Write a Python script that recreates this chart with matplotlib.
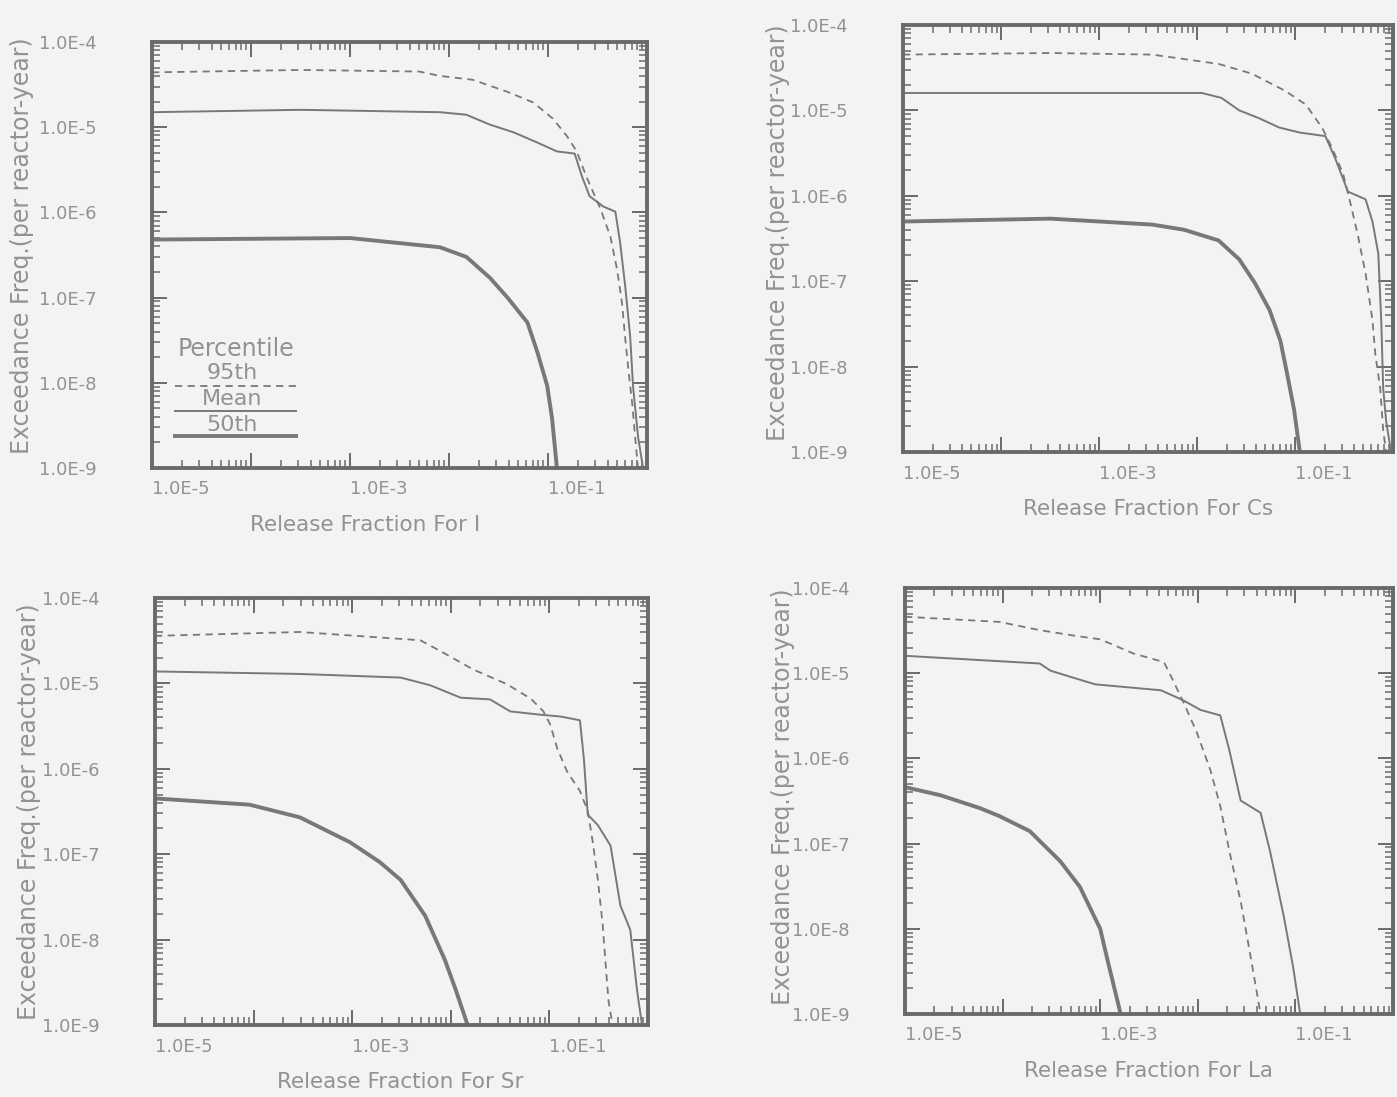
import matplotlib
matplotlib.use("Agg")
import matplotlib.pyplot as plt
from matplotlib.ticker import LogLocator, FuncFormatter, NullFormatter
from matplotlib.lines import Line2D
import math

# ---------------- data ----------------
# Release fraction for I
I_p95_x = [1e-5, 3.2e-4, 5.0e-3, 8.1e-3, 1.74e-2, 3.9e-2, 7.1e-2, 0.112, 0.155, 0.195, 0.245, 0.339, 0.427, 0.50, 0.56, 0.60, 0.65, 0.71, 0.76, 0.81]
I_p95_y = [4.4e-5, 4.7e-5, 4.5e-5, 4.0e-5, 3.6e-5, 2.6e-5, 1.95e-5, 1.26e-5, 7.9e-6, 5.2e-6, 2.6e-6, 1.1e-6, 5.2e-7, 2.1e-7, 8.5e-8, 3.5e-8, 1.4e-8, 5.6e-9, 2.3e-9, 1.0e-9]
I_mean_x = [1e-5, 3.2e-4, 8.1e-3, 1.5e-2, 2.6e-2, 4.5e-2, 7.8e-2, 0.123, 0.186, 0.219, 0.263, 0.363, 0.479, 0.537, 0.603, 0.676, 0.724, 0.813, 0.912]
I_mean_y = [1.5e-5, 1.6e-5, 1.5e-5, 1.4e-5, 1.07e-5, 8.7e-6, 6.6e-6, 5.2e-6, 4.9e-6, 2.7e-6, 1.55e-6, 1.17e-6, 1.02e-6, 4.3e-7, 1.35e-7, 3.5e-8, 8.9e-9, 2.3e-9, 1.0e-9]
I_p50_x = [1e-5, 1e-3, 8.1e-3, 1.5e-2, 2.6e-2, 3.9e-2, 6.2e-2, 7.8e-2, 9.8e-2, 0.11, 0.123]
I_p50_y = [4.8e-7, 5.0e-7, 3.9e-7, 3.0e-7, 1.7e-7, 1.0e-7, 5.1e-8, 2.3e-8, 9.3e-9, 3.8e-9, 1.0e-9]

# Release fraction for Cs
Cs_p95_x = [1e-5, 3.2e-4, 3.5e-3, 1.66e-2, 3.6e-2, 7.9e-2, 0.129, 0.19, 0.24, 0.31, 0.363, 0.437, 0.525, 0.617, 0.66, 0.74, 0.794, 0.851]
Cs_p95_y = [4.5e-5, 4.7e-5, 4.5e-5, 3.5e-5, 2.7e-5, 1.7e-5, 1.17e-5, 6.2e-6, 3.6e-6, 1.8e-6, 8.7e-7, 3.5e-7, 1.23e-7, 3.5e-8, 1.4e-8, 5.6e-9, 1.8e-9, 1.0e-9]
Cs_mean_x = [1e-5, 3.5e-3, 1.12e-2, 1.78e-2, 2.7e-2, 4.3e-2, 6.9e-2, 0.112, 0.204, 0.257, 0.347, 0.525, 0.617, 0.708, 0.759, 0.794, 0.851, 0.955]
Cs_mean_y = [1.6e-5, 1.6e-5, 1.6e-5, 1.4e-5, 1.0e-5, 8.1e-6, 6.3e-6, 5.5e-6, 5.0e-6, 2.75e-6, 1.12e-6, 9.1e-7, 5.0e-7, 2.1e-7, 3.4e-8, 5.6e-9, 2.3e-9, 1.0e-9]
Cs_p50_x = [1e-5, 3.2e-4, 3.5e-3, 7.4e-3, 1.66e-2, 2.7e-2, 3.9e-2, 5.5e-2, 7.1e-2, 8.3e-2, 9.8e-2, 0.112]
Cs_p50_y = [5.0e-7, 5.4e-7, 4.6e-7, 4.0e-7, 3.0e-7, 1.8e-7, 9.5e-8, 4.6e-8, 2.0e-8, 8.3e-9, 3.1e-9, 1.0e-9]

# Release fraction for Sr
Sr_p95_x = [1e-5, 2.95e-4, 4.9e-3, 7.8e-3, 1.7e-2, 3.7e-2, 6.5e-2, 8.7e-2, 0.102, 0.12, 0.151, 0.204, 0.245, 0.275, 0.309, 0.347, 0.372, 0.398, 0.437]
Sr_p95_y = [3.6e-5, 4.0e-5, 3.2e-5, 2.4e-5, 1.45e-5, 9.8e-6, 6.6e-6, 4.7e-6, 3.3e-6, 1.74e-6, 9.3e-7, 5.5e-7, 3.2e-7, 1.4e-7, 5.2e-8, 1.5e-8, 5.1e-9, 1.9e-9, 1.0e-9]
Sr_mean_x = [1e-5, 2.95e-4, 3.1e-3, 6.2e-3, 1.26e-2, 2.5e-2, 4.0e-2, 8.1e-2, 0.129, 0.204, 0.224, 0.245, 0.309, 0.417, 0.525, 0.661, 0.776, 0.87]
Sr_mean_y = [1.38e-5, 1.29e-5, 1.17e-5, 9.5e-6, 6.8e-6, 6.5e-6, 4.7e-6, 4.3e-6, 4.1e-6, 3.7e-6, 1.29e-6, 2.9e-7, 2.2e-7, 1.26e-7, 2.5e-8, 1.3e-8, 2.5e-9, 1.0e-9]
Sr_p50_x = [1e-5, 9.1e-5, 2.95e-4, 9.5e-4, 1.9e-3, 3.1e-3, 5.5e-3, 8.7e-3, 1.12e-2, 1.48e-2]
Sr_p50_y = [4.5e-7, 3.8e-7, 2.7e-7, 1.38e-7, 8.1e-8, 5.0e-8, 1.9e-8, 5.8e-9, 2.6e-9, 1.0e-9]

# Release fraction for La
La_p95_x = [1e-5, 9.3e-5, 2.4e-4, 5.5e-4, 1e-3, 2.2e-3, 4.5e-3, 5.5e-3, 7.1e-3, 9.8e-3, 1.35e-2, 1.7e-2, 2.1e-2, 2.75e-2, 3.3e-2, 3.9e-2, 4.4e-2]
La_p95_y = [4.6e-5, 4.0e-5, 3.2e-5, 2.75e-5, 2.5e-5, 1.7e-5, 1.35e-5, 8.5e-6, 4.6e-6, 2.0e-6, 7.2e-7, 2.75e-7, 8.3e-8, 2.1e-8, 6.6e-9, 2.2e-9, 1.0e-9]
La_mean_x = [1e-5, 2.4e-4, 3.1e-4, 4.9e-4, 8.9e-4, 4.2e-3, 7.1e-3, 1.07e-2, 1.7e-2, 2.1e-2, 2.75e-2, 4.4e-2, 5.5e-2, 7.6e-2, 9.5e-2, 0.112]
La_mean_y = [1.6e-5, 1.3e-5, 1.07e-5, 9.1e-6, 7.4e-6, 6.3e-6, 4.8e-6, 3.7e-6, 3.2e-6, 1.26e-6, 3.2e-7, 2.3e-7, 8.1e-8, 1.4e-8, 3.5e-9, 1.0e-9]
La_p50_x = [1e-5, 2.3e-5, 5.9e-5, 9.3e-5, 1.9e-4, 3.9e-4, 6.2e-4, 1e-3, 1.2e-3, 1.62e-3]
La_p50_y = [4.6e-7, 3.7e-7, 2.6e-7, 2.1e-7, 1.4e-7, 6.2e-8, 3.1e-8, 1.0e-8, 4.1e-9, 1.0e-9]

x_tick_labels = ["1.0E-5", "1.0E-3", "1.0E-1"]
y_tick_labels = ["1.0E-9", "1.0E-8", "1.0E-7", "1.0E-6", "1.0E-5", "1.0E-4"]
y_label = "Exceedance Freq.(per reactor-year)"
x_labels = ["Release Fraction For I", "Release Fraction For Cs",
            "Release Fraction For Sr", "Release Fraction For La"]
legend_title = "Percentile"
legend_names = ["95th", "Mean", "50th"]

# ---------------- style ----------------
BG = "#f3f3f3"
TXT = "#929292"
LINE = "#787878"
FRAME = "#6a6a6a"
plt.rcParams["font.family"] = ["DejaVu Sans"]

fig = plt.figure(figsize=(13.97, 10.97), dpi=100, facecolor=BG)

W, H = 1397.0, 1097.0
# (left px, right px, top px, bottom px)
boxes = [(152, 647, 42, 468), (903, 1393, 25, 452),
         (155, 648, 598, 1025), (905, 1393, 588, 1014)]
# y-label centre positions (axes fraction)
ylab_pos = [(-0.262, 0.523), (-0.255, 0.514), (-0.255, 0.50), (-0.25, 0.51)]
xlab_pos = [(0.43, -0.11), (0.50, -0.11), (0.497, -0.11), (0.50, -0.11)]

series = [
    (I_p95_x, I_p95_y, I_mean_x, I_mean_y, I_p50_x, I_p50_y),
    (Cs_p95_x, Cs_p95_y, Cs_mean_x, Cs_mean_y, Cs_p50_x, Cs_p50_y),
    (Sr_p95_x, Sr_p95_y, Sr_mean_x, Sr_mean_y, Sr_p50_x, Sr_p50_y),
    (La_p95_x, La_p95_y, La_mean_x, La_mean_y, La_p50_x, La_p50_y),
]

x_label_map = {round(math.log10(float(s.replace("E", "e")))): s for s in x_tick_labels}
y_label_map = {round(math.log10(float(s.replace("E", "e")))): s for s in y_tick_labels}

def xfmt(v, pos):
    return x_label_map.get(round(math.log10(v)), "") if v > 0 else ""

def yfmt(v, pos):
    return y_label_map.get(round(math.log10(v)), "") if v > 0 else ""

axes = []
for i, (l, r, t, b) in enumerate(boxes):
    ax = fig.add_axes([l / W, 1 - b / H, (r - l) / W, (b - t) / H])
    ax.set_facecolor(BG)
    ax.set_xscale("log")
    ax.set_yscale("log")
    ax.set_xlim(1e-5, 1)
    ax.set_ylim(1e-9, 1e-4)

    p95x, p95y, mx, my, p50x, p50y = series[i]
    ax.plot(p95x, p95y, color=LINE, lw=1.3, dashes=(4, 3))
    ax.plot(mx, my, color=LINE, lw=1.4)
    ax.plot(p50x, p50y, color=LINE, lw=2.8)

    for sp in ax.spines.values():
        sp.set_linewidth(2.8)
        sp.set_color(FRAME)

    ax.xaxis.set_major_locator(LogLocator(base=10, numticks=10))
    ax.xaxis.set_minor_locator(LogLocator(base=10, subs=range(2, 10), numticks=20))
    ax.yaxis.set_major_locator(LogLocator(base=10, numticks=10))
    ax.yaxis.set_minor_locator(LogLocator(base=10, subs=range(2, 10), numticks=20))
    ax.xaxis.set_major_formatter(FuncFormatter(xfmt))
    ax.yaxis.set_major_formatter(FuncFormatter(yfmt))
    ax.xaxis.set_minor_formatter(NullFormatter())
    ax.yaxis.set_minor_formatter(NullFormatter())

    ax.tick_params(which="both", direction="in", top=True, right=True,
                   color=FRAME, labelcolor=TXT, labelsize=13)
    ax.tick_params(which="major", length=11, width=1.4)
    ax.tick_params(which="minor", length=6, width=1.1)
    ax.tick_params(axis="y", which="major", pad=40)
    ax.tick_params(axis="x", which="major", pad=9)
    for lab in ax.get_xticklabels():
        lab.set_horizontalalignment("left")

    ax.set_ylabel(y_label, color=TXT, fontsize=17, va="center")
    ax.yaxis.set_label_coords(*ylab_pos[i])
    ax.set_xlabel(x_labels[i], color=TXT, fontsize=15.5)
    ax.xaxis.set_label_coords(*xlab_pos[i])
    axes.append(ax)

# legend (drawn as in the original, text above each line sample)
ax = axes[0]
ax.text(0.17, 0.28, legend_title, transform=ax.transAxes, ha="center", va="center",
        color=TXT, fontsize=17)
styles = [dict(lw=1.3, dashes=(4, 3)), dict(lw=1.4), dict(lw=2.8)]
text_y = [0.222, 0.162, 0.102]
line_y = [0.193, 0.134, 0.075]
for name, st, ty, ly in zip(legend_names, styles, text_y, line_y):
    ax.text(0.162, ty, name, transform=ax.transAxes, ha="center", va="center",
            color=TXT, fontsize=16)
    ax.add_line(Line2D([0.046, 0.29], [ly, ly], transform=ax.transAxes,
                       color=LINE, **st))

fig.savefig("out.png", dpi=100, facecolor=BG)
